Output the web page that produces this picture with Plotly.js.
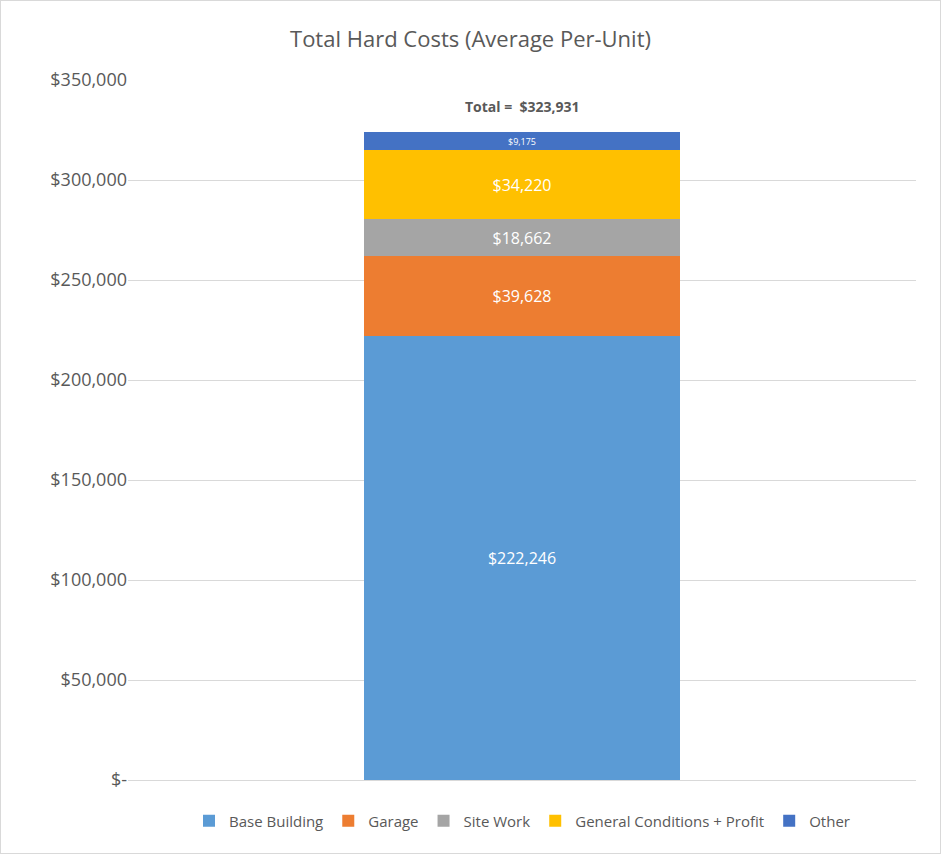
<!DOCTYPE html>
<html><head><meta charset="utf-8">
<script src="https://cdn.plot.ly/plotly-3.0.1.min.js"></script>
<style>body{margin:0}#c{width:941px;height:854px;box-sizing:border-box;border:1px solid #d9d9d9}</style>
</head><body><div id="c"></div>
<script>
const categories = ["Total"];
const seriesNames = ["Base Building","Garage","Site Work","General Conditions + Profit","Other"];
const seriesValues = [222246, 39628, 18662, 34220, 9175];
const colors = ["#5b9bd5","#ed7d31","#a5a5a5","#ffc000","#4472c4"];
const tickVals = [0,50000,100000,150000,200000,250000,300000,350000];
const tickText = ["$-","$50,000","$100,000","$150,000","$200,000","$250,000","$300,000","$350,000"];
const fmt = v => "$" + v.toLocaleString("en-US");
const total = seriesValues.reduce((a,b)=>a+b,0);
const traces = seriesNames.map((n,i)=>({
  type:"bar", name:n, x:categories, y:[seriesValues[i]], width:0.4,
  marker:{color:colors[i]}, text:[fmt(seriesValues[i])], textposition:"inside",
  insidetextanchor:"middle", textfont:{color:"#fff",size:16,family:"Open Sans"},
  hoverinfo:"none"
}));
const layout = {
  width:939, height:852, barmode:"stack", paper_bgcolor:"#fff", plot_bgcolor:"#fff",
  font:{family:"Open Sans", color:"#595959"},
  margin:{l:127,r:24,t:79,b:73},
  title:{text:"Total Hard Costs (Average Per-Unit)", font:{size:22,color:"#595959"}, x:0.5, y:0.955, yanchor:"middle"},
  xaxis:{showticklabels:false, range:[-0.5,0.5], showgrid:false, zeroline:false, fixedrange:true},
  yaxis:{range:[0,350000], tickvals:tickVals, ticktext:tickText, gridcolor:"#d9d9d9", zeroline:true, zerolinecolor:"#d9d9d9",
    tickfont:{size:18,color:"#595959"}, ticks:"", ticklen:0, automargin:false},
  showlegend:true,
  legend:{orientation:"h", x:0.5, xanchor:"center", y:-0.035, yanchor:"top", font:{size:15,color:"#595959"}, traceorder:"normal"},
  annotations:[{x:0, y:total, xref:"x", yref:"y", yshift:26, showarrow:false, text:"<b>Total =  "+fmt(total)+"</b>", font:{size:14,color:"#595959"}}]
};
Plotly.newPlot("c", traces, layout, {displayModeBar:false, staticPlot:true});
</script></body></html>
